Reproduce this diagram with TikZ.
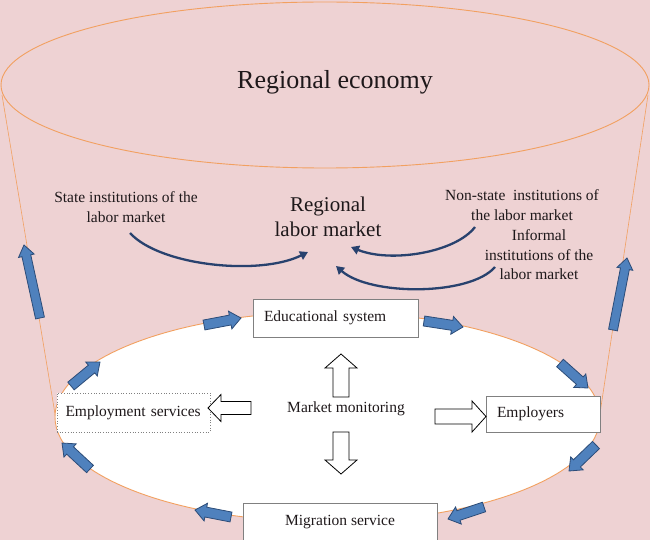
\documentclass[tikz,border=0pt]{standalone}
\usepackage{fontspec}
\setmainfont{Liberation Serif}
\usetikzlibrary{calc,arrows.meta}
\definecolor{bgpink}{RGB}{238,210,211}
\definecolor{orng}{RGB}{242,160,96}
\definecolor{blk}{RGB}{79,129,189}
\definecolor{blkd}{RGB}{44,76,120}
\definecolor{navy}{RGB}{40,66,110}
\definecolor{boxgray}{RGB}{128,128,128}
\definecolor{txtc}{RGB}{30,24,26}
\newcommand{\blkarrow}[6]{%
  \path (#2) coordinate (ba-a) (#3) coordinate (ba-b) ($(ba-b)!#6!(ba-a)$) coordinate (ba-n);
  \draw[#1] ($(ba-a)!#4!90:(ba-b)$) -- ($(ba-n)!#4!-90:(ba-a)$) -- ($(ba-n)!#5!-90:(ba-a)$) -- (ba-b)
    -- ($(ba-n)!#5!90:(ba-a)$) -- ($(ba-n)!#4!90:(ba-a)$) -- ($(ba-a)!#4!-90:(ba-b)$) -- cycle;}
\tikzset{
  outline/.style={draw=orng, line width=0.9pt},
  sideline/.style={draw=orng, line width=0.6pt},
  boxst/.style={draw=boxgray, fill=white, line width=0.7pt, inner sep=0pt, font=\fontsize{15.5}{19}\selectfont, text=txtc},
  txt/.style={font=\fontsize{15.5}{19.5}\selectfont, align=center, text=txtc, inner sep=0pt},
  bluearrow/.style={fill=blk, draw=blkd, line width=0.8pt, line join=miter},
  hollow/.style={fill=white, draw=black, line width=0.8pt, line join=miter},
  curv/.style={draw=navy, line width=2.3pt, -{Triangle[length=8pt,width=9pt]}}
}
\begin{document}
\begin{tikzpicture}[x=1pt,y=-1pt]
\useasboundingbox (0,0) rectangle (650,540);
\fill[bgpink] (0,0) rectangle (650,540);
% cylinder sides
\coordinate (lt) at (2,95); \coordinate (lb) at (58,432);
\coordinate (rt) at (648,95); \coordinate (rb) at (599,420);
\draw[sideline] (lt) -- (lb);
\draw[sideline] (rt) -- (rb);
% top ellipse
\filldraw[fill=bgpink, outline] (325,85) ellipse [x radius=324pt, y radius=83pt];
\node[font=\fontsize{26}{30}\selectfont, text=txtc] (econ) at (335,82) {Regional economy};
% lower ellipse
\filldraw[fill=white, outline] (327.5,417) ellipse [x radius=272.5pt, y radius=105pt];
% boxes
\node[boxst, minimum width=165pt, minimum height=38pt, text width=143pt, align=left] (edu) at (335.5,318) {Educational system};
\node[boxst, dotted, minimum width=153pt, minimum height=39pt, text width=136pt, align=left] (emp) at (133.5,412.5) {Employment services};
\node[boxst, minimum width=114pt, minimum height=36pt, text width=92pt, align=left] (empl) at (543,414) {Employers};
\node[boxst, minimum width=194pt, minimum height=38pt] (mig) at (340,522) {Migration service};
\node[txt] (mon) at (346,409) {Market monitoring};
% upper texts
\node[txt] (state) at (126,207) {State institutions of the\\labor market};
\node[font=\fontsize{21}{25}\selectfont, align=center, text=txtc, inner sep=0pt] (rlm) at (328,217) {Regional\\labor market};
\node[txt] (nonst) at (522,205) {Non-state\ \ institutions of\\the labor market};
\node[txt] (inf) at (539,255) {Informal\\institutions of the\\labor market};
% curved arrows
\coordinate (c1s) at (130,233); \coordinate (c1e) at (308,252);
\coordinate (c2s) at (475,227); \coordinate (c2e) at (351,247);
\coordinate (c3s) at (495,267); \coordinate (c3e) at (336,266);
\draw[curv] (c1s) .. controls (160,266) and (260,276) .. (c1e);
\draw[curv] (c2s) .. controls (455,253) and (390,263) .. (c2e);
\draw[curv] (c3s) .. controls (470,296) and (370,296) .. (c3e);
% hollow arrows
\coordinate (hu1) at (341,397); \coordinate (hu2) at (341,354);
\coordinate (hd1) at (341,432); \coordinate (hd2) at (341,474);
\coordinate (hl1) at (251,408); \coordinate (hl2) at (208,408);
\coordinate (hr1) at (435,416.5); \coordinate (hr2) at (486,416.5);
\blkarrow{hollow}{hu1}{hu2}{8pt}{16pt}{14pt}
\blkarrow{hollow}{hd1}{hd2}{8pt}{16pt}{14pt}
\blkarrow{hollow}{hl1}{hl2}{6.5pt}{13.5pt}{13pt}
\blkarrow{hollow}{hr1}{hr2}{7.5pt}{15.5pt}{14pt}
% blue block arrows
\coordinate (bl1) at (40,318); \coordinate (bl2) at (24,245);
\coordinate (br1) at (613,330); \coordinate (br2) at (627,258);
\blkarrow{bluearrow}{bl1}{bl2}{4.5pt}{8pt}{11pt}
\blkarrow{bluearrow}{br1}{br2}{4.5pt}{8pt}{11pt}
\coordinate (a1s) at (204,325); \coordinate (a1e) at (241,318);
\coordinate (a2s) at (71,386); \coordinate (a2e) at (100,362);
\coordinate (a3s) at (90,469); \coordinate (a3e) at (62,443);
\coordinate (a4s) at (231,517); \coordinate (a4e) at (195,510);
\coordinate (a5s) at (424,321); \coordinate (a5e) at (463,327);
\coordinate (a6s) at (560,363); \coordinate (a6e) at (588,388);
\coordinate (a7s) at (596,445); \coordinate (a7e) at (569,471);
\coordinate (a8s) at (484,507); \coordinate (a8e) at (448,519);
\foreach \i in {1,...,8}{\blkarrow{bluearrow}{a\i s}{a\i e}{5pt}{9pt}{11pt}}
\end{tikzpicture}
\end{document}
